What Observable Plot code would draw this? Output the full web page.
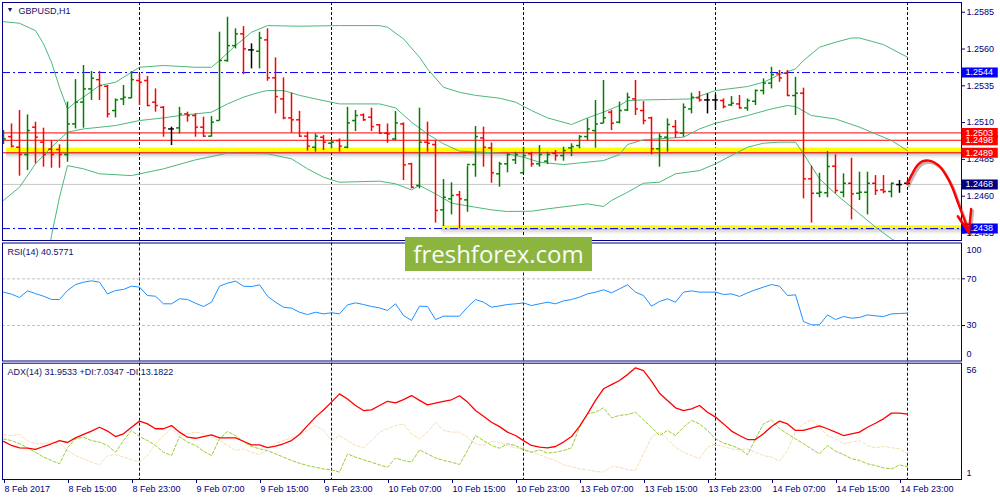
<!DOCTYPE html>
<html><head><meta charset="utf-8">
<script src="https://cdn.jsdelivr.net/npm/d3@7"></script>
<script src="https://cdn.jsdelivr.net/npm/@observablehq/plot@0.6"></script>
<style>
body{margin:0;background:#fff;}
#wrap{position:relative;width:1000px;height:500px;overflow:hidden;background:#fff;}
#logo{position:absolute;left:405px;top:237px;width:187px;height:34px;background:#8cb53f;color:#fafafa;font-family:"Open Sans",sans-serif;font-size:24px;line-height:34px;text-align:center;z-index:5;}
</style></head><body>
<div id="wrap"><div id="logo">freshforex.com</div></div>
<script>
// ---------- DATA ----------
const symbolTitle = "GBPUSD,H1";
const timeLabels = ["8 Feb 2017","8 Feb 15:00","8 Feb 23:00","9 Feb 07:00","9 Feb 15:00","9 Feb 23:00","10 Feb 07:00","10 Feb 15:00","10 Feb 23:00","13 Feb 07:00","13 Feb 15:00","13 Feb 23:00","14 Feb 07:00","14 Feb 15:00","14 Feb 23:00"];
const timeLabelBars = [0,8,16,24,32,40,48,56,64,72,80,88,96,104,112];
const dayStartBars = [17,41,65,89,113];

const opens = [1.24967,1.25005,1.24933,1.24883,1.25069,1.24967,1.24919,1.24917,1.24883,1.25091,1.25239,1.25329,1.25392,1.25347,1.25182,1.25261,1.25268,1.25386,1.25386,1.25239,1.25204,1.25057,1.25064,1.25159,1.25148,1.25069,1.25008,1.25114,1.25522,1.25623,1.25703,1.25594,1.25585,1.25662,1.25404,1.25261,1.25132,1.25119,1.25008,1.24933,1.25001,1.24960,1.24978,1.24933,1.25114,1.25152,1.25137,1.25085,1.25028,1.24989,1.25091,1.24820,1.24673,1.24967,1.24951,1.24507,1.24582,1.24609,1.24575,1.24815,1.24996,1.24928,1.24752,1.24820,1.24847,1.24759,1.24888,1.24820,1.24838,1.24892,1.24876,1.24928,1.24944,1.25005,1.25046,1.25096,1.25171,1.25103,1.25186,1.25261,1.25182,1.25132,1.24922,1.25001,1.25073,1.25028,1.25193,1.25268,1.25254,1.25254,1.25250,1.25220,1.25227,1.25200,1.25245,1.25318,1.25368,1.25431,1.25435,1.25284,1.25300,1.24718,1.24620,1.24623,1.24804,1.24627,1.24688,1.24620,1.24627,1.24688,1.24643,1.24632,1.24679,1.24688];
const highs = [1.25046,1.25091,1.25182,1.25152,1.25103,1.25062,1.24974,1.24949,1.25239,1.25392,1.25488,1.25447,1.25447,1.25352,1.25261,1.25352,1.25447,1.25431,1.25413,1.25329,1.25209,1.25069,1.25204,1.25171,1.25159,1.25137,1.25141,1.25714,1.25816,1.25737,1.25752,1.25635,1.25714,1.25737,1.25540,1.25404,1.25300,1.25177,1.25035,1.25023,1.25012,1.24978,1.24989,1.25204,1.25182,1.25159,1.25198,1.25087,1.25091,1.25175,1.25098,1.24824,1.25198,1.25103,1.24978,1.24713,1.24691,1.24632,1.24804,1.25073,1.25069,1.24962,1.24831,1.24888,1.24899,1.24933,1.24899,1.24944,1.24899,1.24910,1.24933,1.24956,1.25012,1.25125,1.25250,1.25386,1.25182,1.25239,1.25300,1.25386,1.25243,1.25137,1.25023,1.25125,1.25114,1.25227,1.25300,1.25311,1.25295,1.25288,1.25261,1.25277,1.25284,1.25261,1.25322,1.25397,1.25476,1.25454,1.25454,1.25408,1.25334,1.24804,1.24756,1.24903,1.24881,1.24752,1.24858,1.24763,1.24763,1.24740,1.24740,1.24688,1.24706,1.24706];
const lows = [1.24951,1.24928,1.24736,1.24774,1.24820,1.24797,1.24790,1.24790,1.24831,1.25057,1.25062,1.25250,1.25250,1.25132,1.25132,1.25216,1.25261,1.25216,1.25209,1.25171,1.25001,1.24944,1.25023,1.25103,1.25001,1.25001,1.25001,1.25109,1.25510,1.25601,1.25426,1.25465,1.25465,1.25381,1.25159,1.25119,1.25028,1.25001,1.24906,1.24899,1.24910,1.24922,1.24899,1.24922,1.25039,1.25109,1.25039,1.25023,1.24960,1.24978,1.24706,1.24650,1.24650,1.24899,1.24417,1.24394,1.24473,1.24378,1.24491,1.24729,1.24797,1.24688,1.24661,1.24759,1.24815,1.24759,1.24797,1.24797,1.24815,1.24838,1.24838,1.24869,1.24922,1.24978,1.24926,1.25091,1.25046,1.25091,1.25175,1.25148,1.25085,1.24881,1.24797,1.24899,1.24994,1.25001,1.25159,1.25239,1.25159,1.25182,1.25193,1.25209,1.25193,1.25177,1.25216,1.25288,1.25329,1.25374,1.25277,1.25148,1.24582,1.24417,1.24589,1.24589,1.24616,1.24589,1.24439,1.24571,1.24473,1.24605,1.24616,1.24589,1.24620,1.24673];
const closes = [1.24989,1.24940,1.24883,1.25046,1.25001,1.24883,1.24883,1.24883,1.25091,1.25239,1.25329,1.25402,1.25352,1.25159,1.25254,1.25272,1.25392,1.25374,1.25216,1.25216,1.25064,1.25057,1.25159,1.25148,1.25069,1.25008,1.25103,1.25522,1.25623,1.25703,1.25601,1.25594,1.25675,1.25404,1.25277,1.25132,1.25119,1.25008,1.24940,1.25008,1.24967,1.24967,1.24940,1.25098,1.25148,1.25119,1.25073,1.25028,1.25023,1.25098,1.24813,1.24661,1.24967,1.24960,1.24503,1.24593,1.24605,1.24582,1.24815,1.25005,1.24933,1.24759,1.24820,1.24883,1.24883,1.24876,1.24820,1.24883,1.24883,1.24876,1.24910,1.24937,1.25005,1.25057,1.25091,1.25132,1.25096,1.25182,1.25272,1.25193,1.25114,1.24922,1.25005,1.25087,1.25035,1.25204,1.25272,1.25254,1.25254,1.25254,1.25209,1.25232,1.25200,1.25250,1.25318,1.25368,1.25426,1.25404,1.25284,1.25300,1.24718,1.24620,1.24627,1.24802,1.24639,1.24688,1.24616,1.24627,1.24688,1.24639,1.24632,1.24688,1.24679,1.24688];

// Bollinger bands (read at knots)
const bbUpperBars = [0,2,4,5,6,7,8,9,10,12,14,16,17,20,24,26,27,29,31,33,37,42,47,48,50,52,53,55,57,59,62,64,66,68,71,73,75,77,78,80,83,86,89,93,95,97,99,100,102,104,106,107,110,113];
const bbUpper = [1.25786,1.25775,1.25725,1.25635,1.25510,1.25340,1.25193,1.25239,1.25273,1.25352,1.25374,1.25442,1.25476,1.25488,1.25476,1.25476,1.25522,1.25623,1.25714,1.25759,1.25755,1.25759,1.25759,1.25748,1.25669,1.25544,1.25465,1.25340,1.25306,1.25285,1.25266,1.25239,1.25182,1.25132,1.25087,1.25132,1.25171,1.25216,1.25250,1.25254,1.25257,1.25261,1.25318,1.25345,1.25374,1.25426,1.25465,1.25522,1.25612,1.25646,1.25675,1.25675,1.25630,1.25544];
const bbMiddleBars = [0,2,4,6,8,10,14,17,20,22,26,28,30,32,33,35,37,39,42,47,49,51,53,55,57,60,63,65,67,70,72,75,77,78,80,83,85,87,89,93,96,98,99,101,104,107,111,113];
const bbMiddle = [1.24571,1.24661,1.24820,1.24933,1.25035,1.25057,1.25080,1.25114,1.25132,1.25148,1.25171,1.25227,1.25273,1.25306,1.25318,1.25318,1.25285,1.25261,1.25227,1.25227,1.25200,1.25103,1.25023,1.24956,1.24906,1.24899,1.24888,1.24865,1.24831,1.24815,1.24826,1.24842,1.24883,1.24951,1.24983,1.24994,1.25001,1.25057,1.25096,1.25148,1.25193,1.25216,1.25209,1.25148,1.25125,1.25069,1.24978,1.24910];
const bbLowerBars = [4,6,7,8,10,12,16,20,24,28,33,36,38,40,42,47,49,51,52,54,56,59,61,63,66,68,73,75,76,78,80,82,84,87,89,93,95,97,99,100,102,104,106,109,111,113];
const bbLower = [1.23665,1.24333,1.24593,1.24808,1.24786,1.24752,1.24740,1.24786,1.24847,1.24892,1.24888,1.24854,1.24786,1.24729,1.24695,1.24702,1.24684,1.24643,1.24673,1.24616,1.24553,1.24525,1.24507,1.24496,1.24498,1.24514,1.24548,1.24530,1.24571,1.24627,1.24688,1.24695,1.24752,1.24774,1.24820,1.24933,1.24960,1.24967,1.24967,1.24888,1.24718,1.24616,1.24525,1.24390,1.24310,1.24254];

// Chart objects
const priceTicks = [1.2585,1.2560,1.2535,1.2510,1.2485,1.2460,1.2435];
const blueLevels = [1.2544,1.2438];
const redLevels = [1.2503,1.2498,1.24895];
const currentPrice = 1.2468;
const zoneStartBar = [0.4, 54.8];
const zoneLowPrice = [1.24895, 1.24379];
const zoneHighPrice = [1.24927, 1.24399];
const tagPrices = [1.2544,1.2498,1.2503,1.24895,1.2468,1.2438];
const tagLabels = ["1.2544","1.2498","1.2503","1.2489","1.2468","1.2438"];
const tagKinds = ["level","red","red","red","bid","level"];
const arrowBars = [112.96,113.59,114.21,114.84,115.66,116.29,117.13,117.96,118.59,119.21,119.84,120.38,120.66];
const arrowPrices = [1.24684,1.24752,1.24808,1.24836,1.24842,1.24831,1.24797,1.24729,1.24661,1.24571,1.24480,1.24401,1.24355];
const arrowHeadBars = [119.29,120.66,120.96];
const arrowHeadPrices = [1.24464,1.24355,1.24514];

// RSI(14)
const rsiTitle = "RSI(14) 40.5771";
const rsiLevels = [70,30];
const rsi = [58.6,56.9,54,59.7,57.4,55.1,52.3,52.3,60,65.1,67.1,68.3,67.1,57.1,60,60.9,63.7,62.9,55.7,55.1,48.6,48.6,52.9,52.3,49.1,46.3,50,63.7,66.3,68,63.7,63.4,64.9,55.1,50,45.7,44.9,41.4,39.4,41.4,40,40.9,40,47.7,49.4,48,46.3,45.1,42.9,48.6,38.6,34.3,46.6,46.3,35.1,38,38,38,45.7,52.3,50,45.7,46.8,48,48.6,49.4,47.1,48.6,50,48.6,51.1,52.3,54.3,57.1,58.6,60.6,58,61.4,64.9,58.6,55.7,46.6,50.6,52.9,50,58.6,59.7,58.6,58.6,58.6,56.6,57.1,54.9,58,60.6,62.9,65.1,63.7,55.7,56.3,33.4,30.6,30.6,39.1,35.1,37.7,36.3,36.9,39.1,38.3,37.7,40,40.3,40.58];

// ADX(14)
const adxTitle = "ADX(14) 31.9533 +DI:7.0347 -DI:13.1822";
const adx = [19.0,17.1,16.0,15.8,15.2,16.6,17.9,19.4,18.5,20.7,22.3,23.9,25.7,23.9,21.3,22.6,25.7,28.6,27.3,25,25,26.5,23.4,21.0,20.5,21.3,22.1,20.7,20.7,20.7,19.1,17.4,17.4,16.1,16.8,17.9,19.4,22.3,26.5,30.5,33.9,37.6,41.5,39.1,36.0,33.6,33.9,36.0,38.0,37.2,38.8,40.7,38.4,36.3,37.1,37.9,38.7,40.6,37.6,33.6,30.9,28.1,26.0,23.4,21.8,19.4,17.1,16.3,16.0,16.6,18.7,21.3,26.1,32.0,38.4,43.9,45.9,47.8,50.6,53.8,52.5,47.5,41.8,38.4,34.9,33.6,34.4,36.0,32.8,30.5,27.3,23.9,21.8,19.9,19.9,22.6,26.1,28.6,27.3,24.2,24.2,25.3,26.4,25,23.4,21.8,22.6,23.4,25.7,27.6,29.7,32.4,32.4,31.95];
const plusDI = [20.2,19.4,17.9,16.0,13.9,11.6,10.0,8.4,16.0,20.2,21.0,19.4,18.7,17.1,13.9,19.4,24.2,21.3,19.4,17.1,13.9,12.3,21.3,18.7,17.1,14.4,12.3,20.2,23.7,21.8,18.7,16.6,15.5,14.7,13.1,11.6,10.0,8.7,7.6,6.8,6.0,5.6,4.5,13.1,11.6,10.3,9.2,7.9,6.8,11.2,10.0,9.2,15.0,13.1,11.2,10.0,9.2,8.1,14.7,21.8,19.4,17.1,15.8,17.9,17.1,15.0,13.9,15.0,13.5,13.9,14.7,16.0,25.7,32.0,32.8,34.9,30.2,31.3,31.7,32.8,29.2,25.7,21.8,24.2,21.8,25.7,28.9,27.3,24.2,20.2,18.2,17.1,15.5,12.7,20.2,27.3,29.2,25.0,22.6,20.2,17.9,15.5,13.1,17.1,14.4,12.8,10.8,10.0,8.4,7.6,6.5,6.0,7.9,7.03];
const minusDI = [22.3,21.8,22.3,19.4,17.9,17.9,18.7,18.2,14.7,12.3,10.8,9.2,7.9,12.3,12.8,11.6,10.3,9.2,12.3,17.9,21.8,25.0,21.8,22.6,23.4,22.6,21.0,19.4,17.1,14.7,15.5,13.9,12.8,14.7,18.2,19.4,20.7,22.3,24.2,26.5,24.2,19.4,21.8,19.4,17.1,16.0,19.4,23.4,25.0,26.5,27.3,22.6,20.2,23.4,28.1,24.2,23.4,23.4,21.0,17.9,17.1,19.0,18.6,17.1,16.0,15.5,13.9,12.8,11.2,10.0,7.9,7.1,6.0,5.6,4.8,4.5,7.1,6.8,5.6,5.3,13.1,21.0,23.4,20.2,16.3,13.9,12.3,10.8,16.3,17.6,16.6,15.5,15.0,15.5,13.9,12.3,11.6,9.7,14.7,23.4,27.3,29.2,25.7,21.8,20.2,17.9,18.7,19.4,17.1,16.0,16.6,16.0,15.5,13.18];

// ---------- LAYOUT / STYLE ----------
const navy = "#000080";
const tagColor = {level:"#0000ff", red:"#ff0000", bid:"#000080"};
const xDomain = [-0.125, 119.75];
const font = "'Liberation Sans', Arial, sans-serif";
const baseStyle = {background:"transparent", fontFamily:font, fontSize:"9px", color:navy, overflow:"visible"};
const wrap = document.getElementById("wrap");
function mount(svg, top){ svg.style.position="absolute"; svg.style.left="0px"; svg.style.top=top+"px"; wrap.appendChild(svg); }

const bars = opens.map((o,i)=>({i, o, h:highs[i], l:lows[i], c:closes[i]}));
const barColor = d => d.c > d.o ? "#008000" : d.c < d.o ? "#ff0000" : "#000000";
const knots = (bx, vals) => bx.map((b,k)=>({b, v:vals[k]}));
const zones = zoneStartBar.map((s,k)=>({s, lo:zoneLowPrice[k], hi:zoneHighPrice[k]}));
const tags = tagPrices.map((p,k)=>({p, label:tagLabels[k], kind:tagKinds[k]}));
const arrow = arrowBars.map((b,k)=>({b, p:arrowPrices[k]}));
const arrowHead = arrowHeadBars.map((b,k)=>({b, p:arrowHeadPrices[k]}));
const bandColor = "#4cb87a";

// ---------- PRICE PANEL ----------
const price = Plot.plot({
  width:1000, height:242, marginLeft:2, marginRight:39, marginTop:2, marginBottom:2,
  x:{domain:xDomain, axis:null}, y:{domain:[1.24299,1.25916]},
  color:{type:"identity"}, style:baseStyle,
  marks:[
    Plot.ruleX(dayStartBars, {stroke:navy, strokeDasharray:"3,2"}),
    Plot.ruleY([currentPrice], {stroke:"#c8c8c8"}),
    ...[[2,0.16],[4,0.09],[6,0.04]].map(([dy,op]) => Plot.rect(zones, {x1:"s", x2:()=>xDomain[1], y1:"lo", y2:"hi", fill:"#000", fillOpacity:op, dy, clip:true})),
    Plot.rect(zones, {x1:"s", x2:()=>xDomain[1], y1:"lo", y2:"hi", fill:"#ffff00", clip:true}),
    Plot.ruleY(redLevels, {stroke:"#ff0000"}),
    Plot.ruleY(blueLevels, {stroke:"#0000ff", strokeDasharray:"8,3,2,3"}),
    Plot.line(knots(bbUpperBars,bbUpper), {x:"b", y:"v", stroke:bandColor, strokeWidth:1, clip:true}),
    Plot.line(knots(bbMiddleBars,bbMiddle), {x:"b", y:"v", stroke:bandColor, strokeWidth:1, clip:true}),
    Plot.line(knots(bbLowerBars,bbLower), {x:"b", y:"v", stroke:bandColor, strokeWidth:1, clip:true}),
    Plot.ruleX(bars, {x:"i", y1:"l", y2:"h", stroke:barColor, strokeWidth:1.5, clip:true}),
    Plot.ruleY(bars, {y:"o", x1:d=>d.i-0.36, x2:d=>d.i, stroke:barColor, strokeWidth:1.5, clip:true}),
    Plot.ruleY(bars, {y:"c", x1:d=>d.i, x2:d=>d.i+0.36, stroke:barColor, strokeWidth:1.5, clip:true}),
    Plot.frame({stroke:navy}),
    Plot.axisY({anchor:"right", ticks:priceTicks, tickFormat:d3.format(".4f"), tickSize:3, tickPadding:2, label:null}),
    Plot.ruleY(tags, {y:"p", x1:()=>xDomain[1]+0.05, x2:()=>xDomain[1]+4.6, stroke:d=>tagColor[d.kind], strokeWidth:10}),
    Plot.text(tags, {y:"p", text:"label", frameAnchor:"right", dx:4, textAnchor:"start", fill:"white"}),
    Plot.line(arrow, {x:"b", y:"p", stroke:"#500000", strokeOpacity:0.3, strokeWidth:3, dx:1.5, dy:2, curve:"catmull-rom"}),
    Plot.line(arrowHead, {x:"b", y:"p", stroke:"#500000", strokeOpacity:0.3, strokeWidth:3, dx:1.5, dy:2}),
    Plot.line(arrow, {x:"b", y:"p", stroke:"#ff0000", strokeWidth:2.4, curve:"catmull-rom"}),
    Plot.line(arrowHead, {x:"b", y:"p", stroke:"#ff0000", strokeWidth:2.4}),
    Plot.text(["▼"], {frameAnchor:"top-left", dx:4, dy:5, textAnchor:"start", lineAnchor:"top", fontSize:7, fill:"#10106e"}),
    Plot.text([symbolTitle], {frameAnchor:"top-left", dx:16, dy:5, textAnchor:"start", lineAnchor:"top", fill:"#10106e"})
  ]
});
mount(price, 0);

// ---------- RSI PANEL ----------
const rsiPlot = Plot.plot({
  width:1000, height:121, marginLeft:2, marginRight:39, marginTop:1.5, marginBottom:1.5,
  x:{domain:xDomain, axis:null}, y:{domain:[-0.4,100.7]},
  color:{type:"identity"}, style:baseStyle,
  marks:[
    Plot.ruleX(dayStartBars, {stroke:navy, strokeDasharray:"3,2"}),
    Plot.ruleY(rsiLevels, {stroke:"#c0c0c0", strokeDasharray:"3,2"}),
    Plot.line(rsi, {x:(d,i)=>i, y:d=>d, stroke:"#1e90ff", strokeWidth:1, clip:true}),
    Plot.frame({stroke:navy}),
    Plot.axisY({anchor:"right", ticks:rsiLevels, tickSize:3, tickPadding:2, label:null}),
    Plot.text([100], {y:d=>d, text:d=>String(d), frameAnchor:"right", dx:5, dy:6, textAnchor:"start"}),
    Plot.text([0], {y:d=>d, text:d=>String(d), frameAnchor:"right", dx:5, dy:-6, textAnchor:"start"}),
    Plot.text([rsiTitle], {frameAnchor:"top-left", dx:5, dy:5.5, textAnchor:"start", lineAnchor:"top", fill:"#10106e"})
  ]
});
mount(rsiPlot, 241);

// ---------- ADX PANEL ----------
const adxPlot = Plot.plot({
  width:1000, height:139, marginLeft:2, marginRight:39, marginTop:1.7, marginBottom:21,
  x:{domain:xDomain}, y:{domain:[1,56], axis:null},
  color:{type:"identity"}, style:baseStyle,
  marks:[
    Plot.ruleX(dayStartBars, {stroke:navy, strokeDasharray:"3,2"}),
    Plot.line(minusDI, {x:(d,i)=>i, y:d=>d, stroke:"#f5deb3", strokeWidth:1, strokeDasharray:"3,2", clip:true}),
    Plot.line(plusDI, {x:(d,i)=>i, y:d=>d, stroke:"#9acd32", strokeWidth:1, strokeDasharray:"3,2", clip:true}),
    Plot.line(adx, {x:(d,i)=>i, y:d=>d, stroke:"#ff0000", strokeWidth:1.3, clip:true}),
    Plot.frame({stroke:navy}),
    Plot.text([56], {y:d=>d, text:d=>String(d), frameAnchor:"right", dx:5, dy:7, textAnchor:"start"}),
    Plot.text([1], {y:d=>d, text:d=>String(d), frameAnchor:"right", dx:5, dy:-6, textAnchor:"start"}),
    Plot.axisX({anchor:"bottom", ticks:timeLabelBars, tickFormat:d=>timeLabels[timeLabelBars.indexOf(d)], tickSize:4, tickPadding:2.5, textAnchor:"start", dx:1, label:null}),
    Plot.text([adxTitle], {frameAnchor:"top-left", dx:5, dy:5.3, textAnchor:"start", lineAnchor:"top", fill:"#10106e"})
  ]
});
mount(adxPlot, 361);
</script>
</body></html>
